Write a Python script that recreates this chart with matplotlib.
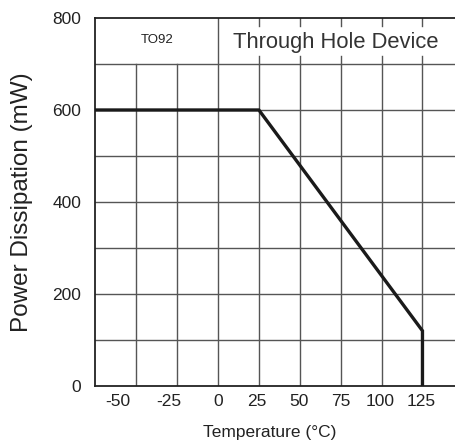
import numpy as np
import matplotlib
matplotlib.use("Agg")
import matplotlib.pyplot as plt

plt.rcParams["font.family"] = ["Liberation Sans", "DejaVu Sans"]

# derating curve (temperature in C, power in mW)
temp = [-75, 25, 125, 125]
power = [600, 600, 120, 0]

# tick labels as printed on the sheet (positions)
xtick_pos = [-61, -30, 0, 24, 49.5, 75, 99, 124]
xtick_lab = ["-50", "-25", "0", "25", "50", "75", "100", "125"]
ytick_pos = [0, 200, 400, 600, 800]
ytick_lab = ["0", "200", "400", "600", "800"]

grid_x = [-50, -25, 0, 25, 50, 75, 100, 125]
grid_y = [100, 200, 300, 400, 500, 600, 700]

fig = plt.figure(figsize=(4.56, 4.44), dpi=100)
ax = fig.add_axes([0.209, 0.1306, 0.791, 0.8289])
ax.set_xlim(-75, 145.5)
ax.set_ylim(0, 800)

gc = "#555555"
for y in grid_y:
    ax.axhline(y, color=gc, lw=1.0, zorder=1)
for x in grid_x:
    if x == 0:
        ax.plot([x, x], [0, 800], color=gc, lw=1.0, zorder=1)
    elif x < 0:
        ax.plot([x, x], [0, 700], color=gc, lw=1.0, zorder=1)
    else:
        # full line in body, only short stubs in the header row
        ax.plot([x, x], [0, 700], color=gc, lw=1.0, zorder=1)
        ax.plot([x, x], [700, 717], color=gc, lw=1.0, zorder=1)
        ax.plot([x, x], [783, 800], color=gc, lw=1.0, zorder=1)

ax.plot(temp, power, color="#1a1a1a", lw=2.4, zorder=3, solid_joinstyle="miter")

ax.text(-37.5, 752, "TO92", ha="center", va="center", fontsize=9.5, color="#222222")
ax.text(72, 746, "Through Hole Device", ha="center", va="center", fontsize=15.8,
        color="#333333")

ax.spines["right"].set_visible(False)
for s in ["left", "bottom", "top"]:
    ax.spines[s].set_linewidth(1.3)
    ax.spines[s].set_color("#222222")

ax.set_xticks(xtick_pos)
ax.set_xticklabels(xtick_lab, fontsize=12.5, color="#222222")
ax.set_yticks(ytick_pos)
ax.set_yticklabels(ytick_lab, fontsize=12.5, color="#222222")
ax.tick_params(axis="both", length=0)
ax.tick_params(axis="x", pad=6)
ax.tick_params(axis="y", pad=10)

ax.set_xlabel("Temperature (°C)", fontsize=12.5, color="#222222")
ax.xaxis.set_label_coords(0.484, -0.106)
ax.set_ylabel("Power Dissipation (mW)", fontsize=17.5, color="#222222")
ax.yaxis.set_label_coords(-0.173, 0.5)

fig.savefig("out.png", dpi=100)
